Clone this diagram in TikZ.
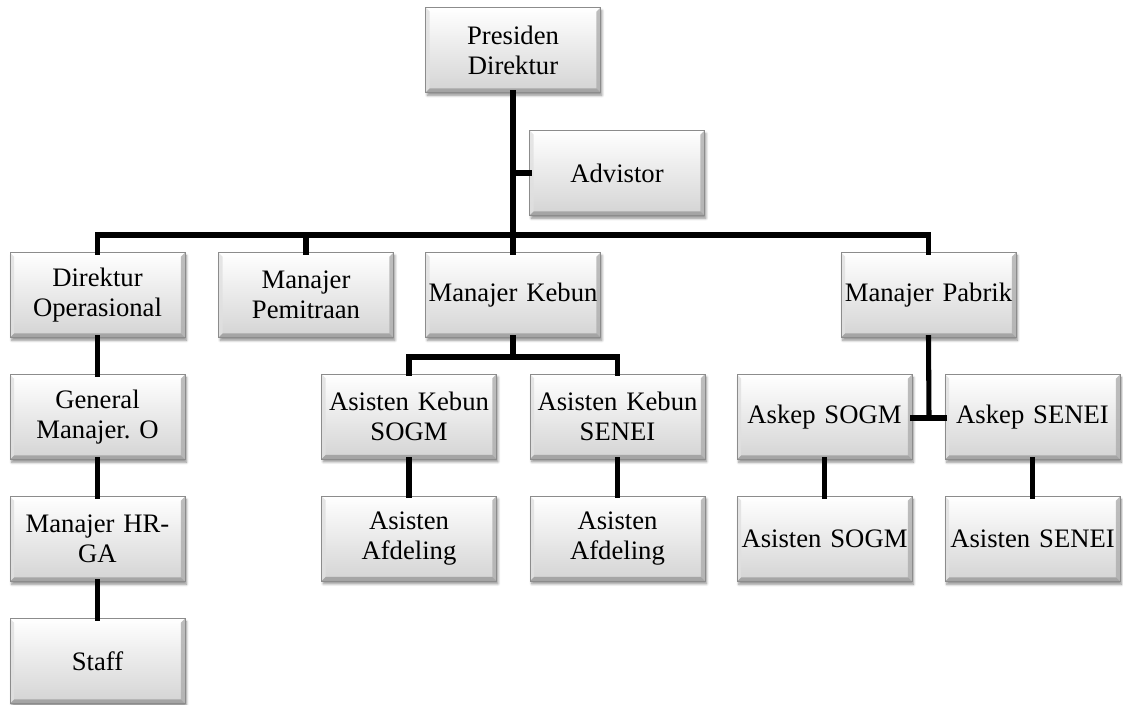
\documentclass[tikz,border=0pt]{standalone}
\usepackage{fontspec}
\setmainfont{Liberation Serif}
\usetikzlibrary{shadows.blur}
\tikzset{
  orgbox/.style={
    rectangle, minimum width=129pt, minimum height=63.5pt, inner sep=2pt,
    align=center, text width=127pt,
    font=\fontsize{20}{22.5}\selectfont\frenchspacing,
    top color=white, bottom color=black!17,
    draw=black!45, line width=0.4pt,
    blur shadow={shadow xshift=1.2pt, shadow yshift=-2.2pt, shadow blur steps=6, shadow opacity=45},
    path picture={
      \fill[white,opacity=0.9] (path picture bounding box.north west) -- (path picture bounding box.north east)
        -- ([shift={(-3pt,-3pt)}]path picture bounding box.north east) -- ([shift={(3pt,-3pt)}]path picture bounding box.north west) -- cycle;
      \fill[black!12,opacity=0.8] (path picture bounding box.north west) -- (path picture bounding box.south west)
        -- ([shift={(3pt,3pt)}]path picture bounding box.south west) -- ([shift={(3pt,-3pt)}]path picture bounding box.north west) -- cycle;
      \fill[black!32,opacity=0.8] (path picture bounding box.north east) -- (path picture bounding box.south east)
        -- ([shift={(-3pt,3pt)}]path picture bounding box.south east) -- ([shift={(-3pt,-3pt)}]path picture bounding box.north east) -- cycle;
      \fill[black!40,opacity=0.8] (path picture bounding box.south west) -- (path picture bounding box.south east)
        -- ([shift={(-3pt,3pt)}]path picture bounding box.south east) -- ([shift={(3pt,3pt)}]path picture bounding box.south west) -- cycle;
    }
  },
  conn/.style={draw=black, line width=3.8pt, line join=miter, line cap=rect}
}
\begin{document}
\begin{tikzpicture}[x=0.75pt,y=-0.75pt]
\useasboundingbox (0,0) rectangle (1123,704);
\coordinate (bar) at (513,235);
\coordinate (kbar) at (513,357);
\coordinate (pbar) at (929,418);
% nodes
\node[orgbox] (pres) at (513,50) {Presiden\\Direktur};
\node[orgbox] (adv) at (617,173) {Advistor};
\node[orgbox] (dirop) at (97.5,295) {Direktur\\Operasional};
\node[orgbox] (pem) at (306,295) {Manajer\\Pemitraan};
\node[orgbox] (kebun) at (513,295) {Manajer Kebun};
\node[orgbox] (pabrik) at (928.5,295) {Manajer Pabrik};
\node[orgbox] (gm) at (97.5,417) {General\\Manajer. O};
\node[orgbox] (hr) at (97.5,539) {Manajer HR-\\GA};
\node[orgbox] (staff) at (97.5,661) {Staff};
\node[orgbox] (akS) at (409,416.5) {Asisten Kebun\\SOGM};
\node[orgbox] (akSe) at (617.5,416.5) {Asisten Kebun\\SENEI};
\node[orgbox] (afd1) at (409,538.5) {Asisten\\Afdeling};
\node[orgbox] (afd2) at (617.5,538.5) {Asisten\\Afdeling};
\node[orgbox] (askS) at (824.5,417) {Askep SOGM};
\node[orgbox] (askSe) at (1032.5,417) {Askep SENEI};
\node[orgbox] (asS) at (824.5,539) {Asisten SOGM};
\node[orgbox] (asSe) at (1032.5,539) {Asisten SENEI};
% connectors
\draw[conn] (pres.south) -- (kebun.north);
\draw[conn] (adv.west) -- (pres.south |- adv.west);
\draw[conn] (dirop.north) |- (bar) -| (pabrik.north);
\draw[conn] (pem.north) -- (pem.north |- bar);
\draw[conn] (kebun.south) -- (kbar);
\draw[conn] (akS.north) |- (kbar) -| (akSe.north);
\draw[conn] (pabrik.south) -- (pbar);
\draw[conn] (askS.east |- pbar) -- (askSe.west |- pbar);
\draw[conn] (dirop.south) -- (gm.north);
\draw[conn] (gm.south) -- (hr.north);
\draw[conn] (hr.south) -- (staff.north);
\draw[conn] (akS.south) -- (afd1.north);
\draw[conn] (akSe.south) -- (afd2.north);
\draw[conn] (askS.south) -- (asS.north);
\draw[conn] (askSe.south) -- (asSe.north);
\end{tikzpicture}
\end{document}
